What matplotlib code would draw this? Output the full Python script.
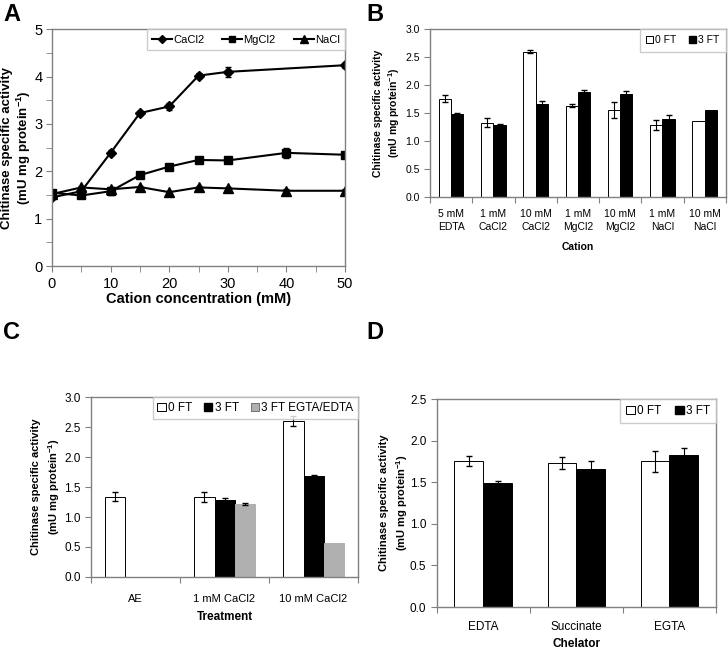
import matplotlib
matplotlib.use('Agg')
import matplotlib.pyplot as plt
import numpy as np
from matplotlib.lines import Line2D
from matplotlib.patches import Patch

plt.rcParams['font.family'] = ['Liberation Sans', 'DejaVu Sans']
plt.rcParams['mathtext.fontset'] = 'custom'
plt.rcParams['mathtext.rm'] = 'Liberation Sans:bold'
plt.rcParams['mathtext.default'] = 'rm'

# panel A data
conc = [0, 5, 10, 15, 20, 25, 30, 40, 50]
ca_x = [0, 5, 10, 15, 20, 25, 30, 50]
ca_y = [1.45, 1.58, 2.39, 3.23, 3.37, 4.02, 4.10, 4.24]
ca_err = [0.04, 0.04, 0.05, 0.04, 0.08, 0.06, 0.11, 0.05]
mg_y = [1.55, 1.49, 1.58, 1.92, 2.10, 2.24, 2.23, 2.39, 2.35]
mg_err = [0.04, 0.04, 0.09, 0.04, 0.04, 0.04, 0.04, 0.10, 0.05]
na_y = [1.52, 1.66, 1.62, 1.67, 1.56, 1.66, 1.64, 1.59, 1.59]
na_err = [0.03] * 9

# panel B data
b_cats = ['5 mM\nEDTA', '1 mM\nCaCl2', '10 mM\nCaCl2', '1 mM\nMgCl2',
          '10 mM\nMgCl2', '1 mM\nNaCl', '10 mM\nNaCl']
b_0ft = [1.76, 1.33, 2.60, 1.63, 1.56, 1.28, 1.36]
b_0ft_err = [0.07, 0.08, 0.03, 0.03, 0.14, 0.09, np.nan]
b_3ft = [1.49, 1.29, 1.67, 1.88, 1.85, 1.39, 1.55]
b_3ft_err = [0.02, 0.02, 0.04, 0.03, 0.05, 0.07, np.nan]

# panel C data
c_cats = ['AE', '1 mM CaCl2', '10 mM CaCl2']
c_0ft = [1.34, 1.33, 2.60]
c_0ft_err = [0.08, 0.08, 0.08]
c_3ft = [np.nan, 1.29, 1.68]
c_3ft_err = [np.nan, 0.02, 0.02]
c_egta = [np.nan, 1.22, 0.57]
c_egta_err = [np.nan, 0.02, np.nan]

# panel D data
d_cats = ['EDTA', 'Succinate', 'EGTA']
d_0ft = [1.76, 1.73, 1.75]
d_0ft_err = [0.06, 0.07, 0.13]
d_3ft = [1.49, 1.66, 1.83]
d_3ft_err = [0.03, 0.10, 0.08]

ylab = 'Chitinase specific activity\n(mU mg protein$^{-1}$)'
spine_col = '#808080'

fig = plt.figure(figsize=(7.28, 6.49), dpi=100)


def style_axes(ax, fs):
    for s in ax.spines.values():
        s.set_color(spine_col)
        s.set_linewidth(1.0)
    ax.tick_params(which='both', color=spine_col, labelsize=fs, length=4, direction='out')


def cat_axis(ax, cats, fs, pad):
    n = len(cats)
    ax.set_xlim(0, n)
    ax.set_xticks(np.arange(n + 1))
    ax.set_xticklabels([''] * (n + 1))
    ax.set_xticks(np.arange(n) + 0.5, minor=True)
    ax.set_xticklabels(cats, minor=True, linespacing=1.3)
    ax.tick_params(axis='x', which='minor', length=0, labelsize=fs, pad=pad)


def err(ax, x, y, e):
    x, y, e = np.asarray(x), np.asarray(y, float), np.asarray(e, float)
    ok = ~np.isnan(e) & ~np.isnan(y)
    ax.errorbar(x[ok], y[ok], yerr=e[ok], fmt='none', ecolor='black', elinewidth=0.8, capsize=2.5)


def ylabel(ax, fs, xpos, ls):
    ax.set_ylabel(ylab, fontsize=fs, fontweight='bold', va='center', linespacing=ls)
    ax.yaxis.set_label_coords(xpos, 0.5)


# ---- A ----
axA = fig.add_axes([0.0714, 0.590, 0.4026, 0.365])
eb = dict(ecolor='black', elinewidth=1, capsize=2.5, capthick=1)
axA.errorbar(ca_x, ca_y, yerr=ca_err, color='black', marker='D', ms=5, lw=1.5, label='CaCl2', **eb)
axA.errorbar(conc, mg_y, yerr=mg_err, color='black', marker='s', ms=6, lw=1.5, label='MgCl2', **eb)
axA.errorbar(conc, na_y, yerr=na_err, color='black', marker='^', ms=6.5, lw=1.5, label='NaCl', **eb)
axA.set_xlim(0, 50)
axA.set_ylim(0, 5)
axA.set_xticks(range(0, 51, 10))
axA.set_xticks(range(0, 51, 5), minor=True)
axA.set_yticks(range(0, 6))
axA.set_yticks(np.arange(0, 5.01, 0.5), minor=True)
style_axes(axA, 10.5)
axA.tick_params(which='minor', length=4)
axA.tick_params(axis='y', pad=3)
axA.set_xlabel('Cation concentration (mM)', fontsize=10.5, fontweight='bold', labelpad=1)
ylabel(axA, 9.5, -0.118, 1.15)
handles = [Line2D([], [], color='black', marker=m, ms=s, lw=1.5) for m, s in [('D', 4.5), ('s', 5), ('^', 5.5)]]
leg = axA.legend(handles, ['CaCl2', 'MgCl2', 'NaCl'], loc='upper right', ncol=3, fontsize=8,
                 frameon=True, fancybox=False, borderaxespad=0, handlelength=1.8,
                 handletextpad=0.1, columnspacing=1.6, borderpad=0.5)
leg.get_frame().set_edgecolor('#c0c0c0')
leg.get_frame().set_linewidth(1)

# ---- B ----
axB = fig.add_axes([0.5907, 0.6965, 0.4063, 0.2585])
xb = np.arange(len(b_cats)) + 0.5
w = 0.29
axB.bar(xb - w / 2, b_0ft, w, color='white', edgecolor='black', lw=0.7)
axB.bar(xb + w / 2, b_3ft, w, color='black', edgecolor='black', lw=0.7)
err(axB, xb - w / 2, b_0ft, b_0ft_err)
err(axB, xb + w / 2, b_3ft, b_3ft_err)
axB.set_ylim(0, 3.0)
axB.set_yticks(np.arange(0, 3.01, 0.5))
axB.set_yticklabels(['%.1f' % v for v in np.arange(0, 3.01, 0.5)])
style_axes(axB, 7.5)
cat_axis(axB, b_cats, 7.5, 9)
axB.set_xlabel('Cation', fontsize=7.5, fontweight='bold', labelpad=7)
ylabel(axB, 7.5, -0.143, 1.3)
bh = [Patch(facecolor='white', edgecolor='black', lw=0.7), Patch(facecolor='black', edgecolor='black')]
leg = axB.legend(bh, ['0 FT', '3 FT'], loc='upper right', ncol=2, fontsize=7.5, frameon=True,
                 fancybox=False, borderaxespad=0, handlelength=0.7, handleheight=0.7,
                 handletextpad=0.2, columnspacing=1.2, borderpad=0.6)
leg.get_frame().set_edgecolor('#c0c0c0')

# ---- C ----
axC = fig.add_axes([0.125, 0.111, 0.3668, 0.277])
xc = np.arange(len(c_cats)) + 0.5
w = 0.225
axC.bar(xc - w, c_0ft, w, color='white', edgecolor='black', lw=0.7)
axC.bar(xc, c_3ft, w, color='black', edgecolor='black', lw=0.7)
axC.bar(xc + w, c_egta, w, color='#b0b0b0', edgecolor='#b0b0b0', lw=0.7)
err(axC, xc - w, c_0ft, c_0ft_err)
err(axC, xc, c_3ft, c_3ft_err)
err(axC, xc + w, c_egta, c_egta_err)
axC.set_ylim(0, 3.0)
axC.set_yticks(np.arange(0, 3.01, 0.5))
axC.set_yticklabels(['%.1f' % v for v in np.arange(0, 3.01, 0.5)])
style_axes(axC, 8.5)
cat_axis(axC, c_cats, 8, 12)
axC.set_xlabel('Treatment', fontsize=8.5, fontweight='bold', labelpad=5)
ylabel(axC, 8, -0.165, 1.45)
ch = [Patch(facecolor='white', edgecolor='black', lw=0.7), Patch(facecolor='black', edgecolor='black'),
      Patch(facecolor='#b0b0b0', edgecolor='#707070', lw=0.7)]
leg = axC.legend(ch, ['0 FT', '3 FT', '3 FT EGTA/EDTA'], loc='upper right', ncol=3, fontsize=8.5,
                 frameon=True, fancybox=False, borderaxespad=0, handlelength=0.7, handleheight=0.7,
                 handletextpad=0.2, columnspacing=1.0, borderpad=0.4)
leg.get_frame().set_edgecolor('#c0c0c0')

# ---- D ----
axD = fig.add_axes([0.600, 0.0647, 0.3835, 0.3203])
xd = np.arange(len(d_cats)) + 0.5
w = 0.31
axD.bar(xd - w / 2, d_0ft, w, color='white', edgecolor='black', lw=0.7)
axD.bar(xd + w / 2, d_3ft, w, color='black', edgecolor='black', lw=0.7)
err(axD, xd - w / 2, d_0ft, d_0ft_err)
err(axD, xd + w / 2, d_3ft, d_3ft_err)
axD.set_ylim(0, 2.5)
axD.set_yticks(np.arange(0, 2.51, 0.5))
axD.set_yticklabels(['%.1f' % v for v in np.arange(0, 2.51, 0.5)])
style_axes(axD, 8.5)
cat_axis(axD, d_cats, 8.5, 10)
axD.set_xlabel('Chelator', fontsize=8.5, fontweight='bold', labelpad=4)
ylabel(axD, 8, -0.152, 1.5)
leg = axD.legend(bh, ['0 FT', '3 FT'], loc='upper right', ncol=2, fontsize=8.5, frameon=True,
                 fancybox=False, borderaxespad=0, handlelength=0.7, handleheight=0.7,
                 handletextpad=0.2, columnspacing=1.2, borderpad=0.5)
leg.get_frame().set_edgecolor('#c0c0c0')

# panel letters
for lab, x, y in [('A', 0.004, 0.995), ('B', 0.503, 0.995), ('C', 0.004, 0.505), ('D', 0.503, 0.505)]:
    fig.text(x, y, lab, fontsize=17, fontweight='bold', va='top', ha='left')

fig.savefig('out.png', dpi=100)
